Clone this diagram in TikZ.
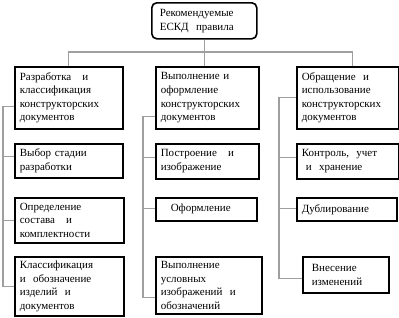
\documentclass[tikz,border=0pt]{standalone}
\usepackage{fontspec}
\setmainfont{Liberation Serif}
\begin{document}
\begin{tikzpicture}[x=1pt, y=-1pt]
    \tikzset{
        box/.style={rectangle, draw, line width=1.6pt, anchor=north west, align=left,
                    inner xsep=5pt, inner ysep=1pt, font=\fontsize{11}{13.6}\selectfont},
        link/.style={draw=gray!75, line width=1.2pt}
    }
    \useasboundingbox (0,0) rectangle (399,317);
    % root
    \node[box, rounded corners=5pt, inner xsep=8pt, text width=89pt, minimum height=36pt] (root) at (151,2) {Рекомендуемые\\ЕСКД\ \ правила};
    % first level
    \node[box, text width=98pt, minimum height=62pt] (dev)  at (14,66)  {Разработка\quad и\\классификация\\конструкторских\\документов};
    \node[box, text width=93pt, minimum height=62pt] (exec) at (155,66) {Выполнение и\\оформление\\конструкторских\\документов};
    \node[box, text width=92pt, minimum height=62pt] (use)  at (296,66) {Обращение\ \ и\\использование\\конструкторских\\документов};
    % left column
    \node[box, text width=98pt, minimum height=34pt] (stage)  at (14,143) {Выбор стадии\\разработки};
    \node[box, text width=99pt, minimum height=45pt] (compl)  at (14,197) {Определение\\состава\quad и\\комплектности};
    \node[box, text width=99pt, minimum height=59pt] (classf) at (14,256) {Классификация\\и\ \ обозначение\\изделий\ \ и\\документов};
    % middle column
    \node[box, text width=93pt, minimum height=35pt] (constr) at (155,143) {Построение\quad и\\изображение};
    \node[box, text width=91pt, minimum height=23pt] (design) at (155,197) {\hspace{10pt}Оформление};
    \node[box, text width=96pt, minimum height=57pt] (symb)   at (155,256) {Выполнение\\условных\\изображений\ \ и\\обозначений};
    % right column
    \node[box, text width=92pt, minimum height=35pt] (ctrl) at (296,143) {Контроль,\ \ учет\\\hspace{4pt}и\ \ хранение};
    \node[box, text width=90pt, minimum height=23pt] (dup)  at (296,197) {Дублирование};
    \node[box, inner xsep=9pt, text width=68pt, minimum height=36pt] (chg) at (302,256) {Внесение\\изменений};
    % bus lines
    \coordinate (bus)  at (0,52);
    \coordinate (lbus) at (3,0);
    \coordinate (mbus) at (143,0);
    \coordinate (rbus) at (279,0);
    % attach points
    \coordinate (devin)  at ([yshift=-9pt]dev.west);
    \coordinate (execin) at ([yshift=-19pt]exec.west);
    \coordinate (symbin) at ([yshift=-12pt]symb.west);
    \coordinate (chgin)  at ([yshift=-4pt]chg.west);
    \coordinate (usein)  at ([xshift=5pt]use.north);
    % top tree
    \draw[link] (root.south) -- (root.south |- dev.north);
    \draw[link] (dev.north) -- (dev.north |- bus) -- (usein |- bus) -- (usein);
    % left branch
    \draw[link] (devin) -| (lbus |- classf.west) -- (classf.west);
    \draw[link] ([yshift=4pt]stage.west) -- ([yshift=4pt]stage.west -| lbus);
    \draw[link] (compl.west) -- (compl.west -| lbus);
    % middle branch
    \draw[link] (execin) -| (mbus |- symbin) -- (symbin);
    \draw[link] ([yshift=4pt]constr.west) -- ([yshift=4pt]constr.west -| mbus);
    \draw[link] ([yshift=1pt]design.west) -- ([yshift=1pt]design.west -| mbus);
    % right branch
    \draw[link] (use.west) -| (rbus |- chgin) -- (chgin);
    \draw[link] ([yshift=4pt]ctrl.west) -- ([yshift=4pt]ctrl.west -| rbus);
    \draw[link] ([yshift=1pt]dup.west) -- ([yshift=1pt]dup.west -| rbus);
\end{tikzpicture}
\end{document}
